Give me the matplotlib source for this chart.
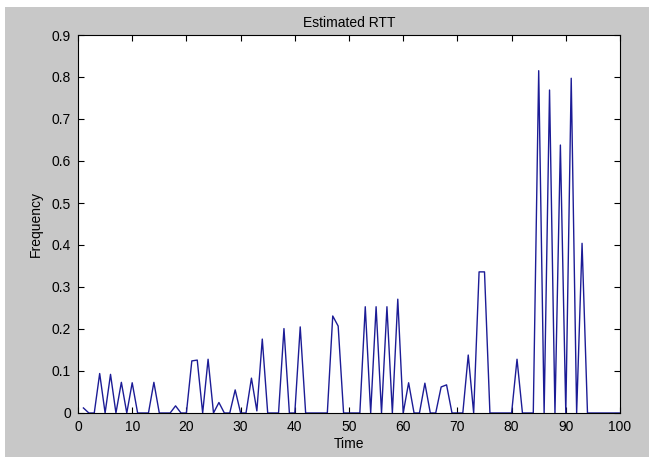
import numpy as np
import matplotlib
matplotlib.use("Agg")
import matplotlib.pyplot as plt
from matplotlib.patches import Rectangle

plt.rcParams['font.family'] = ['Liberation Sans', 'DejaVu Sans']

# estimated RTT frequency, one value per time step 1..100
time = np.arange(1, 101)
freq = [0.012, 0, 0, 0.094, 0, 0.092, 0, 0.073, 0, 0.072,
        0, 0, 0, 0.073, 0, 0, 0, 0.017, 0, 0,
        0.124, 0.126, 0, 0.128, 0, 0.025, 0, 0, 0.055, 0,
        0, 0.083, 0.005, 0.176, 0, 0, 0, 0.201, 0, 0,
        0.205, 0, 0, 0, 0, 0, 0.231, 0.207, 0, 0,
        0, 0, 0.253, 0, 0.253, 0, 0.253, 0, 0.271, 0,
        0.072, 0, 0, 0.071, 0, 0, 0.062, 0.067, 0, 0,
        0, 0.138, 0, 0.336, 0.336, 0, 0, 0, 0, 0,
        0.128, 0, 0, 0, 0.815, 0, 0.769, 0, 0.638, 0,
        0.797, 0, 0.404, 0, 0, 0, 0, 0, 0, 0]

x_ticks = np.arange(0, 101, 10)
y_ticks = np.arange(0, 0.91, 0.1)
y_labels = ['0'] + ['%.1f' % v for v in y_ticks[1:]]

fig = plt.figure(figsize=(6.49, 4.57), dpi=100, facecolor='white')
# matlab style grey figure area with a thin white border top/left
fig.patches.append(Rectangle((5 / 649, 0), 1 - 5 / 649, 450 / 457,
                             transform=fig.transFigure, facecolor='#c8c8c8',
                             edgecolor='none', zorder=-1))

ax = fig.add_axes([78 / 649, 44 / 457, 542 / 649, 378 / 457])
ax.set_facecolor('white')
ax.plot(time, freq, color='#1c1c96', lw=1.0)

ax.set_xlim(0, 100)
ax.set_ylim(0, 0.9)
ax.set_xticks(x_ticks)
ax.set_yticks(y_ticks)
ax.set_yticklabels(y_labels)
ax.tick_params(direction='in', length=4, width=0.8, top=True, right=True,
               labelsize=10, colors='black', pad=5)
for s in ax.spines.values():
    s.set_linewidth(0.8)
    s.set_color('black')

ax.set_title('Estimated RTT', fontsize=10, pad=6)
ax.set_xlabel('Time', fontsize=10, labelpad=2)
ax.set_ylabel('Frequency', fontsize=10, labelpad=6)

fig.savefig('out.png', dpi=100, facecolor=fig.get_facecolor())
